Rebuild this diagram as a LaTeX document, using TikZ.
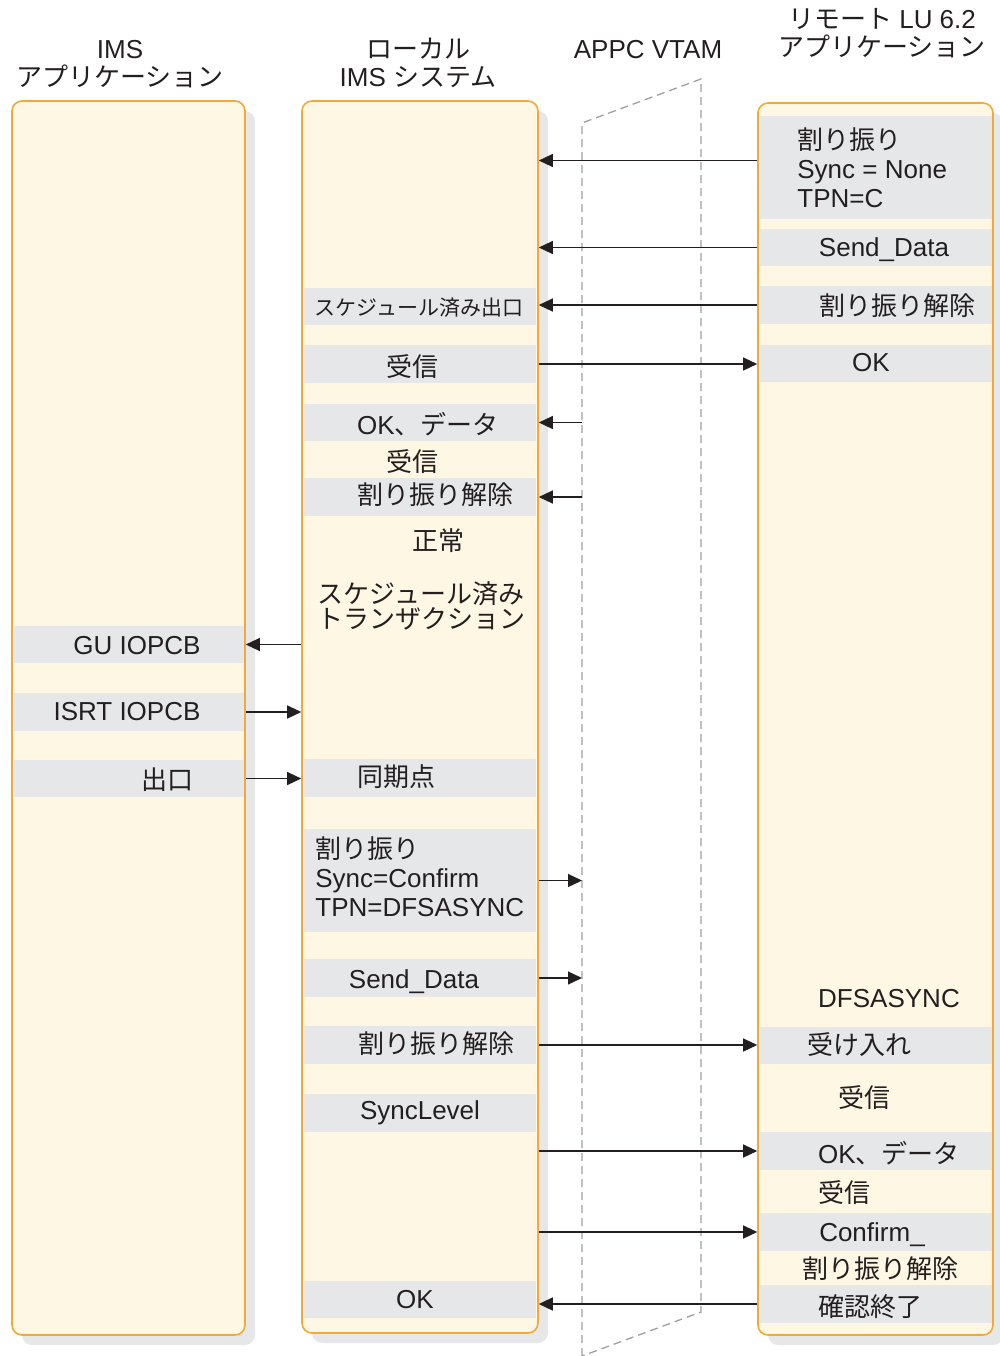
\documentclass[tikz,border=0pt]{standalone}
\usepackage{fontspec}
\setmainfont{Liberation Sans}
\newfontfamily\jp{Noto Sans CJK JP}
\usetikzlibrary{arrows.meta}
\usetikzlibrary{fit,shadows}
\definecolor{cream}{HTML}{FEF7E4}
\definecolor{colline}{HTML}{F2A93B}
\definecolor{bandgray}{HTML}{E6E7E8}
\definecolor{dashgray}{HTML}{9D9FA2}
\definecolor{ink}{HTML}{231F20}

\begin{document}
\begin{tikzpicture}[x=0.5pt, y=-0.5pt, font=\fontsize{13}{14.5}\selectfont, text=ink,
    col/.style = {draw=colline, line width=0.8pt, fill=cream, rounded corners=5pt, inner sep=0pt,
      drop shadow={shadow xshift=5pt, shadow yshift=-5pt, fill=bandgray, opacity=1}},
    band/.style = {fill=bandgray, inner sep=0pt},
    lbl/.style = {inner sep=0pt},
    head/.style = {align=center, inner sep=0pt, font=\fontsize{13}{14}\selectfont},
    vtam/.style = {draw=dashgray, line width=0.65pt, dash pattern=on 4pt off 2.5pt},
    msg/.style = {draw=ink, line width=0.65pt, -{Triangle[length=7pt, width=6.5pt]}}]
    \useasboundingbox (0,0) rectangle (1000,1356);

    \node[head] (hApp) at (120,64) {IMS\\{\jp アプリケーション}};
    \node[head] (hIms) at (418,63) {{\jp ローカル}\\IMS {\jp システム}};
    \node[head] (hVtam) at (648,50) {APPC VTAM};
    \node[head] (hRemote) at (882,33) {{\jp リモート} LU 6.2\\{\jp アプリケーション}};

    \node[col, fit={(12,101) (245,1335)}] (app) {};
    \node[col, fit={(302,101) (538,1333)}] (ims) {};
    \node[col, fit={(758,103) (993,1335)}] (remote) {};

    \coordinate (vtamTL) at (582,123);
    \coordinate (vtamTR) at (701,79);
    \coordinate (vtamBR) at (701,1312);
    \coordinate (vtamBL) at (582,1356);
    \draw[vtam] (vtamBL) -- (vtamTL) -- (vtamTR) -- (vtamBR) -- cycle;

    \node[band, fit={(14,626) (244,663)}] (lGU) {};
    \node[band, fit={(14,693) (244,731)}] (lISRT) {};
    \node[band, fit={(14,760) (244,797)}] (lExit) {};

    \node[band, fit={(304,288) (536,325)}] (mSched) {};
    \node[band, fit={(304,345) (536,383)}] (mRecv) {};
    \node[band, fit={(304,404) (536,441)}] (mOKData) {};
    \node[band, fit={(304,478) (536,516)}] (mFree) {};
    \node[band, fit={(304,759) (536,797)}] (mSync) {};
    \node[band, fit={(304,829) (536,932)}] (mAlloc) {};
    \node[band, fit={(304,959) (536,997)}] (mSend) {};
    \node[band, fit={(304,1026) (536,1064)}] (mFree2) {};
    \node[band, fit={(304,1094) (536,1132)}] (mLevel) {};
    \node[band, fit={(304,1281) (536,1318)}] (mOK) {};

    \node[band, fit={(760,116) (992,219)}] (rAlloc) {};
    \node[band, fit={(760,229) (992,266)}] (rSend) {};
    \node[band, fit={(760,286) (992,324)}] (rFree) {};
    \node[band, fit={(760,345) (992,382)}] (rOK) {};
    \node[band, fit={(760,1027) (992,1064)}] (rAccept) {};
    \node[band, fit={(760,1132) (992,1170)}] (rOKData) {};
    \node[band, fit={(760,1213) (992,1251)}] (rConfirm) {};
    \node[band, fit={(760,1285) (992,1323)}] (rDone) {};

    \node[lbl] (tGU) at (137,646) {GU IOPCB};
    \node[lbl] (tISRT) at (127,712) {ISRT IOPCB};
    \node[lbl] (tExit) at (167,780) {\jp 出口};

    \node[lbl] (tSched) at (419,308) {\fontsize{10.5}{12}\selectfont\jp スケジュール済み出口};
    \node[lbl] (tRecv) at (412,367) {\jp 受信};
    \node[lbl] (tOKData) at (428,424) {OK{\jp 、データ}};
    \node[lbl] (tRecv2) at (412,462) {\jp 受信};
    \node[lbl] (tFree) at (435,495) {\jp 割り振り解除};
    \node[lbl] (tNormal) at (438,541) {\jp 正常};
    \node[lbl, align=center, font=\fontsize{13}{12.5}\selectfont] (tTrans) at (421,606) {{\jp スケジュール済み}\\{\jp トランザクション}};
    \node[lbl] (tSync) at (396,777) {\jp 同期点};
    \node[lbl, align=left, anchor=west] (tAlloc) at (315,877) {{\jp 割り振り}\\Sync=Confirm\\TPN=DFSASYNC};
    \node[lbl] (tSend) at (414,982) {Send\_Data};
    \node[lbl] (tFree2) at (436,1044) {\jp 割り振り解除};
    \node[lbl] (tLevel) at (420,1113) {SyncLevel};
    \node[lbl] (tOK) at (415,1300) {OK};

    \node[lbl, align=left, anchor=west] (tRAlloc) at (797,168) {{\jp 割り振り}\\Sync = None\\TPN=C};
    \node[lbl] (tRSend) at (884,250) {Send\_Data};
    \node[lbl] (tRFree) at (897,306) {\jp 割り振り解除};
    \node[lbl] (tROK) at (871,363) {OK};
    \node[lbl] (tRName) at (889,999) {DFSASYNC};
    \node[lbl] (tRAccept) at (859,1045) {\jp 受け入れ};
    \node[lbl] (tRRecv) at (864,1098) {\jp 受信};
    \node[lbl] (tROKData) at (889,1153) {OK{\jp 、データ}};
    \node[lbl] (tRRecv2) at (844,1193) {\jp 受信};
    \node[lbl] (tRConfirm) at (872,1235) {Confirm\_};
    \node[lbl] (tRFree2) at (880,1269) {\jp 割り振り解除};
    \node[lbl] (tRDone) at (870,1307) {\jp 確認終了};

    \coordinate (rAllocY) at ([yshift=3.5pt]rAlloc.center);
    \draw[msg] (remote.west |- rAllocY) -- (ims.east |- rAllocY);
    \draw[msg] (remote.west |- rSend.center) -- (ims.east |- rSend.center);
    \draw[msg] (remote.west |- rFree.center) -- (ims.east |- rFree.center);
    \draw[msg] (ims.east |- mRecv.center) -- (remote.west |- mRecv.center);
    \draw[msg] (vtamTL |- mOKData.center) -- (ims.east |- mOKData.center);
    \draw[msg] (vtamTL |- mFree.center) -- (ims.east |- mFree.center);
    \draw[msg] (ims.west |- lGU.center) -- (app.east |- lGU.center);
    \draw[msg] (app.east |- lISRT.center) -- (ims.west |- lISRT.center);
    \draw[msg] (app.east |- lExit.center) -- (ims.west |- lExit.center);
    \draw[msg] (ims.east |- mAlloc.center) -- (vtamTL |- mAlloc.center);
    \draw[msg] (ims.east |- mSend.center) -- (vtamTL |- mSend.center);
    \draw[msg] (ims.east |- mFree2.center) -- (remote.west |- mFree2.center);
    \draw[msg] (ims.east |- rOKData.center) -- (remote.west |- rOKData.center);
    \draw[msg] (ims.east |- rConfirm.center) -- (remote.west |- rConfirm.center);
    \draw[msg] (remote.west |- rDone.center) -- (ims.east |- rDone.center);
\end{tikzpicture}
\end{document}
